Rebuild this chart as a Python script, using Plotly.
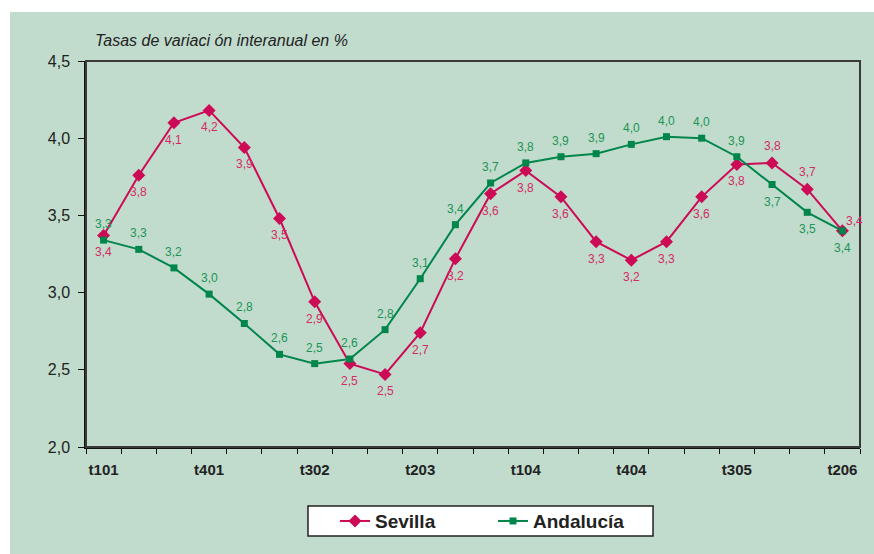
import plotly.graph_objects as go

# -----------------------
# Data
# -----------------------
periodos = ["t101", "t201", "t301", "t401", "t102", "t202", "t302", "t402",
            "t103", "t203", "t303", "t403", "t104", "t204", "t304", "t404",
            "t105", "t205", "t305", "t405", "t106", "t206"]

sevilla = [3.37, 3.76, 4.10, 4.18, 3.94, 3.48, 2.94, 2.54, 2.47, 2.74, 3.22,
           3.64, 3.79, 3.62, 3.33, 3.21, 3.33, 3.62, 3.83, 3.84, 3.67, 3.40]

andalucia = [3.34, 3.28, 3.16, 2.99, 2.80, 2.60, 2.54, 2.57, 2.76, 3.09, 3.44,
             3.71, 3.84, 3.88, 3.90, 3.96, 4.01, 4.00, 3.88, 3.70, 3.52, 3.40]

etiquetas_x = ["t101", "t401", "t302", "t203", "t104", "t404", "t305", "t206"]

# -----------------------
# Style
# -----------------------
FONT = "Arial, Liberation Sans, sans-serif"
BG = "#c1dccd"
C_SEV = "#cc0a55"
C_AND = "#00854a"

x = list(range(len(periodos)))


def etiqueta(v):
    return f"{v:.1f}".replace(".", ",")


# desplazamiento vertical de cada etiqueta (px): negativo = debajo
off_sev = [-17] * 19 + [17, 17, 10]
off_and = [16] * 19 + [-17] * 3
dx_sev = [0] * 21 + [12]

fig = go.Figure()

fig.add_trace(go.Scatter(
    x=x, y=sevilla, name="Sevilla", mode="lines+markers",
    line=dict(color=C_SEV, width=2),
    marker=dict(symbol="diamond", size=10, color=C_SEV),
    cliponaxis=False,
))

fig.add_trace(go.Scatter(
    x=x, y=andalucia, name="Andalucía", mode="lines+markers",
    line=dict(color=C_AND, width=2),
    marker=dict(symbol="square", size=7, color=C_AND),
    cliponaxis=False,
))

for i, v in enumerate(sevilla):
    fig.add_annotation(x=x[i], y=v, text=etiqueta(v), showarrow=False,
                       yshift=off_sev[i], xshift=dx_sev[i],
                       font=dict(family=FONT, size=12, color="#d42a66"))
for i, v in enumerate(andalucia):
    fig.add_annotation(x=x[i], y=v, text=etiqueta(v), showarrow=False,
                       yshift=off_and[i],
                       font=dict(family=FONT, size=12, color="#1b9455"))

# panel verde con margen blanco arriba/izquierda
fig.add_shape(type="rect", xref="paper", yref="paper",
              x0=-0.0982, x1=1.02, y0=-0.28, y1=1.127,
              line=dict(width=0), fillcolor=BG, layer="below")
# marco del area de trazado (arriba y derecha gris oscuro)
fig.add_shape(type="rect", xref="paper", yref="paper", x0=0, x1=1, y0=0, y1=1,
              line=dict(color="#3a3a3a", width=2), fillcolor="rgba(0,0,0,0)",
              layer="above")
# caja de la leyenda
fig.add_shape(type="rect", xref="paper", yref="paper",
              x0=0.2868, x1=0.7326, y0=-0.2306, y1=-0.1528,
              line=dict(color="#222222", width=1.5), fillcolor="white", layer="above")

fig.add_annotation(
    text="<i>Tasas de variaci ón interanual en %</i>",
    xref="paper", yref="paper", x=0.009, y=1.054,
    xanchor="left", yanchor="middle", showarrow=False,
    font=dict(family=FONT, size=16, color="#222222"),
)

fig.update_layout(
    width=874, height=554,
    margin=dict(l=86, r=14, t=61, b=107),
    paper_bgcolor="white", plot_bgcolor="rgba(0,0,0,0)",
    separators=",.",
    font=dict(family=FONT, color="#222222"),
    showlegend=True,
    legend=dict(
        orientation="h", x=0.3217, y=-0.192, xanchor="left", yanchor="middle",
        bgcolor="rgba(0,0,0,0)", borderwidth=0,
        font=dict(family=FONT, size=19, color="#222222", weight="bold"),
        entrywidth=113, itemwidth=30,
    ),
    xaxis=dict(
        range=[-0.5, len(periodos) - 0.5],
        tickmode="array",
        tickvals=[periodos.index(t) for t in etiquetas_x],
        ticktext=etiquetas_x,
        ticks="", showgrid=False, zeroline=False,
        showline=True, linecolor="#111111", linewidth=1.5,
        tickfont=dict(family=FONT, size=15, color="#222222", weight="bold"),
        ticklabelstandoff=8,
        minor=dict(ticks="outside", tickvals=[i - 0.5 for i in range(len(periodos) + 1)],
                   ticklen=5, tickcolor="#111111", tickwidth=1, showgrid=False),
    ),
    yaxis=dict(
        range=[2.0, 4.5], dtick=0.5, tickformat=".1f",
        ticks="outside", ticklen=6, tickcolor="#111111",
        showgrid=False, zeroline=False,
        showline=True, linecolor="#111111", linewidth=1.5,
        tickfont=dict(family=FONT, size=16, color="#222222"),
        ticklabelstandoff=5,
    ),
)

fig.write_html("out.html", config={"displayModeBar": False},
               post_script="document.body.style.margin='0';")
